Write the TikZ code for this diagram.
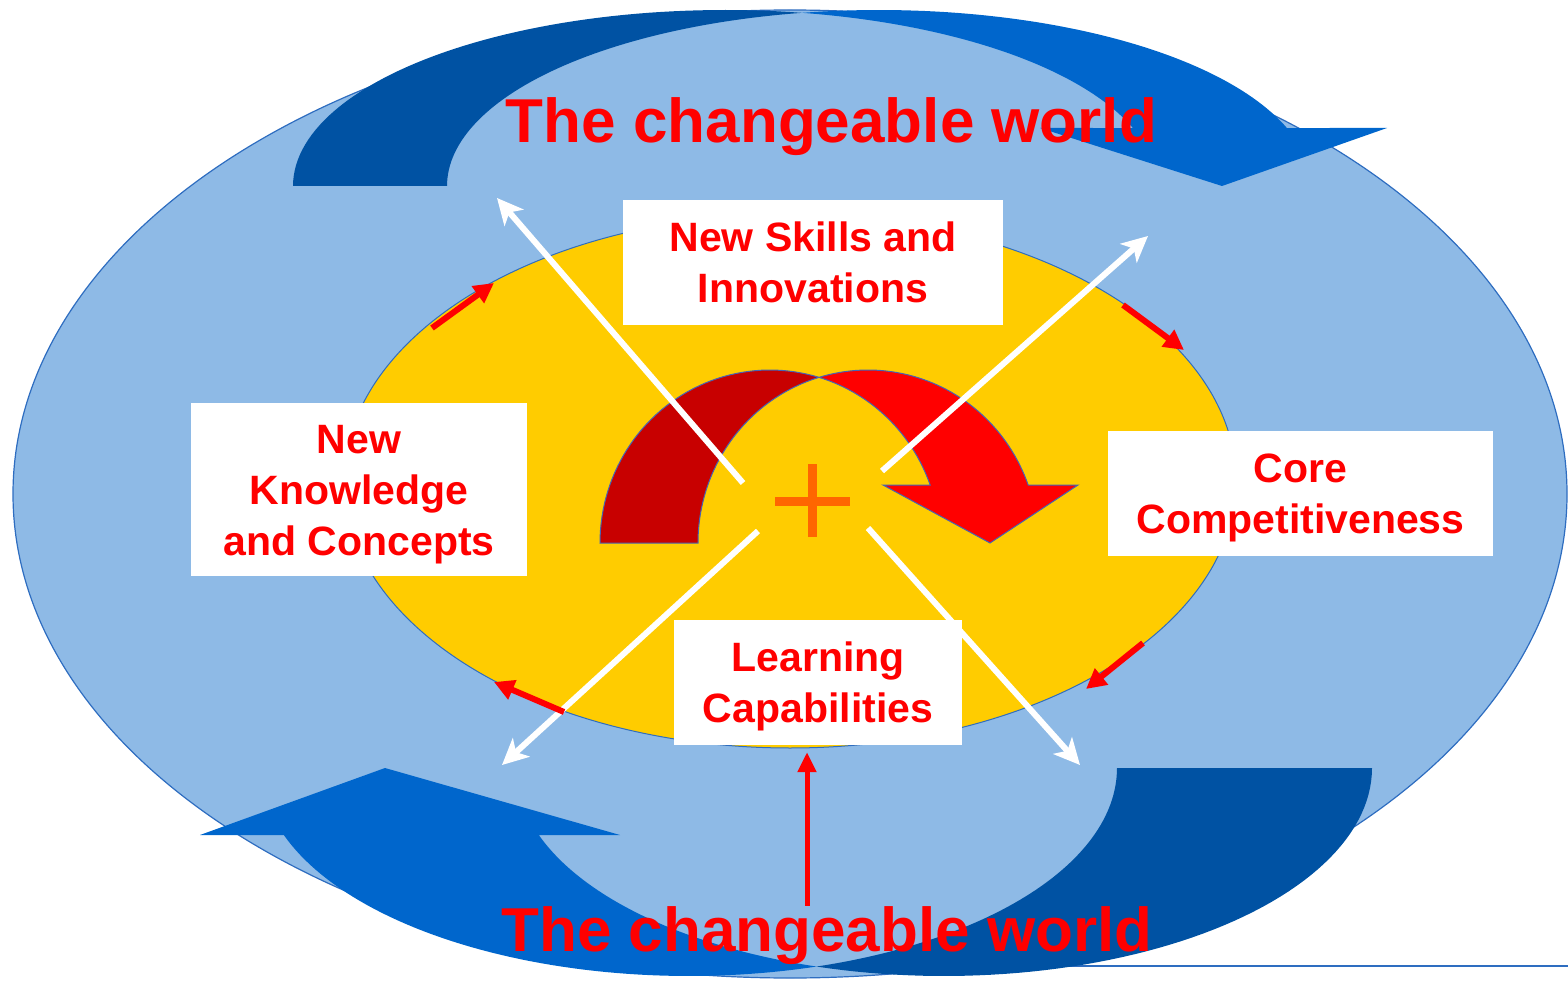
\documentclass[tikz,border=0pt]{standalone}
\usepackage{fontspec}
\setmainfont{Liberation Sans}
\usetikzlibrary{arrows.meta}
\definecolor{skyfill}{RGB}{142,186,230}
\definecolor{rimblue}{RGB}{46,109,192}
\definecolor{tailblue}{RGB}{0,82,163}
\definecolor{frontblue}{RGB}{0,102,204}
\definecolor{coreyellow}{RGB}{255,204,0}
\definecolor{tailred}{RGB}{200,0,0}
\definecolor{frontred}{RGB}{255,0,0}
\definecolor{plusorange}{RGB}{255,102,0}
\definecolor{edgeblue}{RGB}{70,100,180}
\newcommand\boxstrut{\rule[-10pt]{0pt}{49.4pt}}
\begin{document}
\begin{tikzpicture}[x=1pt,y=-1pt,
  boxnode/.style={fill=white, text=frontred, align=center, inner sep=0pt,
    font=\bfseries\fontsize{41}{51}\selectfont},
  titlenode/.style={text=frontred, inner sep=0pt, anchor=base,
    font=\bfseries\fontsize{62}{70}\selectfont},
  whitearrow/.style={draw=white, line width=6pt, -{Stealth[length=26pt,width=25pt,inset=7pt]}},
  ringarrow/.style={draw=frontred, line width=6pt, -{Triangle[length=20pt,width=20pt]}},
  uparrow/.style={draw=frontred, line width=5pt, -{Triangle[length=20pt,width=18pt]}},
  ribbonedge/.style={draw=edgeblue, line width=1pt}
]
\useasboundingbox (0,0) rectangle (1568,981);

% outer world ellipse
\filldraw[fill=skyfill, draw=rimblue, line width=1.2pt] (790,494) ellipse [x radius=777pt, y radius=484pt];
\draw[rimblue, line width=2pt] (950,966) -- (1568,966);

% top curved blue arrow
\fill[tailblue] plot[domain=180:280.27, samples=60, variable=\t] ({725+432*cos(\t)},{186+176*sin(\t)})
  -- plot[domain=259.73:180, samples=60, variable=\t] ({879+432*cos(\t)},{186+176*sin(\t)}) -- cycle;
\fill[frontblue] plot[domain=259.73:340.76, samples=60, variable=\t] ({879+432*cos(\t)},{186+176*sin(\t)})
  -- (1387,128) -- (1222,186) -- (1040,128)
  -- plot[domain=340.76:280.27, samples=60, variable=\t] ({725+432*cos(\t)},{186+176*sin(\t)}) -- cycle;

% bottom curved blue arrow
\fill[tailblue] plot[domain=0:107.33, samples=60, variable=\t] ({944+428*cos(\t)},{768+208*sin(\t)})
  -- plot[domain=72.67:0, samples=60, variable=\t] ({689+428*cos(\t)},{768+208*sin(\t)}) -- cycle;
\fill[frontblue] plot[domain=72.67:161.21, samples=60, variable=\t] ({689+428*cos(\t)},{768+208*sin(\t)})
  -- (200,835) -- (385,768) -- (620,835)
  -- plot[domain=161.21:107.33, samples=60, variable=\t] ({944+428*cos(\t)},{768+208*sin(\t)}) -- cycle;

% inner yellow ellipse
\filldraw[fill=coreyellow, draw=rimblue, line width=1pt] (790,481) ellipse [x radius=446pt, y radius=267pt];

% central red curved arrow
\filldraw[fill=tailred, ribbonedge] plot[domain=180:286.75, samples=50, variable=\t] ({770+170*cos(\t)},{543+173*sin(\t)})
  -- plot[domain=253.25:180, samples=50, variable=\t] ({868+170*cos(\t)},{543+173*sin(\t)}) -- cycle;
\filldraw[fill=frontred, ribbonedge] plot[domain=253.25:340.41, samples=50, variable=\t] ({868+170*cos(\t)},{543+173*sin(\t)})
  -- (1078,485) -- (990,543) -- (883,485)
  -- plot[domain=340.41:286.75, samples=50, variable=\t] ({770+170*cos(\t)},{543+173*sin(\t)}) -- cycle;

% white radiating arrows
\coordinate (ulS) at (743,483); \coordinate (ulE) at (497,198);
\coordinate (urS) at (882,471); \coordinate (urE) at (1148,236);
\coordinate (llS) at (758,531); \coordinate (llE) at (502,765);
\coordinate (lrS) at (868,528); \coordinate (lrE) at (1080,765);
\draw[whitearrow] (ulS) -- (ulE);
\draw[whitearrow] (urS) -- (urE);
\draw[whitearrow] (llS) -- (llE);
\draw[whitearrow] (lrS) -- (lrE);

% orange plus
\coordinate (plusC) at (812,501);
\draw[plusorange, line width=9pt] ([xshift=-37pt]plusC) -- ([xshift=38pt]plusC);
\draw[plusorange, line width=9pt] ([yshift=-36pt]plusC) -- ([yshift=37pt]plusC);

% small red arrows along the yellow ring
\coordinate (r1a) at (432,328); \coordinate (r1b) at (494,283);
\coordinate (r2a) at (1123,305); \coordinate (r2b) at (1184,350);
\coordinate (r3a) at (1143,643); \coordinate (r3b) at (1086,689);
\coordinate (r4a) at (564,712); \coordinate (r4b) at (494,682);
\draw[ringarrow] (r1a) -- (r1b);
\draw[ringarrow] (r2a) -- (r2b);
\draw[ringarrow] (r3a) -- (r3b);
\draw[ringarrow] (r4a) -- (r4b);

% text boxes
\node[boxnode, minimum width=380pt, minimum height=125pt] (skills) at (813,262.5) {\boxstrut New Skills and\\Innovations\boxstrut};
\node[boxnode, minimum width=336pt, minimum height=173pt] (know) at (359,489.5) {\boxstrut New\\Knowledge\\and Concepts\boxstrut};
\node[boxnode, minimum width=385pt, minimum height=125pt] (core) at (1300.5,493.5) {\boxstrut Core\\Competitiveness\boxstrut};
\node[boxnode, minimum width=288pt, minimum height=125pt] (learn) at (818,682.5) {\boxstrut Learning\\Capabilities\boxstrut};

% titles
\node[titlenode] (toptitle) at (831.5,143) {The changeable world};
\node[titlenode] (bottitle) at (827,951) {The changeable world};

% red arrow from the world to learning
\draw[uparrow, shorten >=7pt] ([xshift=-20pt]bottitle.north) -- ([xshift=-11pt]learn.south);
\end{tikzpicture}
\end{document}
